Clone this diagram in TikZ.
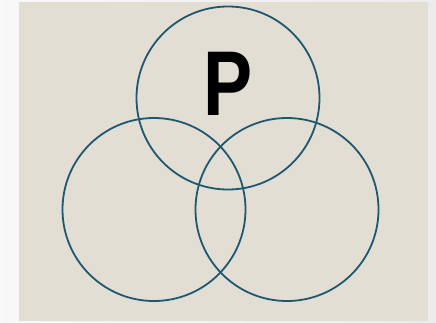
\documentclass[tikz,border=0pt]{standalone}
\usepackage{fontspec}
\usepackage{xcolor}
\usepackage{tikz}
\usetikzlibrary{positioning, backgrounds}
\setsansfont{Liberation Sans}
\definecolor{paperbeige}{RGB}{227, 222, 211}
\definecolor{ringteal}{RGB}{30, 88, 112}

\begin{document}
\begin{tikzpicture}[x=1pt, y=-1pt,
        ring/.style={circle, draw=ringteal, line width=1.8pt, inner sep=0pt,
                     minimum size=183pt}]
    % page margins and card
    \shade[left color=white!95!gray, right color=white!85!gray] (0,0) rectangle (436,322);
    \fill[paperbeige] (19,2) rectangle (428,321);
    \useasboundingbox (0,0) rectangle (436,322);

    \node[ring] (top) at (228,98) {};
    \node[ring] (left) at (154,209.5) {};
    \node[ring] (right) at (287,209.5) {};

    \node[font=\sffamily\bfseries, scale=9.2, xscale=0.8] (letter) at (228,83.5) {P};
\end{tikzpicture}
\end{document}
